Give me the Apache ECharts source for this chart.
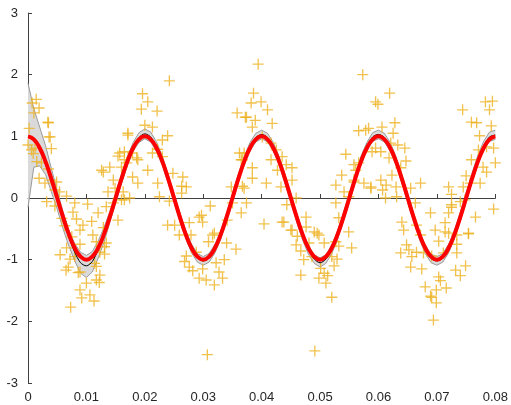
<!DOCTYPE html>
<html>
<head>
<meta charset="utf-8">
<script src="https://cdn.jsdelivr.net/npm/echarts@6/dist/echarts.min.js"></script>
<style>
  html, body { margin: 0; padding: 0; background: #fff; }
  #main { width: 511px; height: 405px; }
</style>
</head>
<body>
<div id="main"></div>
<script>
// x grid of the curves
var xGrid = [0, 0.001, 0.002, 0.003, 0.004, 0.005, 0.006, 0.007, 0.008, 0.009,
  0.01, 0.011, 0.012, 0.013, 0.014, 0.015, 0.016, 0.017, 0.018, 0.019,
  0.02, 0.021, 0.022, 0.023, 0.024, 0.025, 0.026, 0.027, 0.028, 0.029,
  0.03, 0.031, 0.032, 0.033, 0.034, 0.035, 0.036, 0.037, 0.038, 0.039,
  0.04, 0.041, 0.042, 0.043, 0.044, 0.045, 0.046, 0.047, 0.048, 0.049,
  0.05, 0.051, 0.052, 0.053, 0.054, 0.055, 0.056, 0.057, 0.058, 0.059,
  0.06, 0.061, 0.062, 0.063, 0.064, 0.065, 0.066, 0.067, 0.068, 0.069,
  0.07, 0.071, 0.072, 0.073, 0.074, 0.075, 0.076, 0.077, 0.078, 0.079, 0.08];

// red curve (true signal)
var trueY = [1, 0.95, 0.81, 0.59, 0.31, 0, -0.31, -0.59, -0.81, -0.95,
  -1, -0.95, -0.81, -0.59, -0.31, 0, 0.31, 0.59, 0.81, 0.95,
  1, 0.95, 0.81, 0.59, 0.31, 0, -0.31, -0.59, -0.81, -0.95,
  -1, -0.95, -0.81, -0.59, -0.31, 0, 0.31, 0.59, 0.81, 0.95,
  1, 0.95, 0.81, 0.59, 0.31, 0, -0.31, -0.59, -0.81, -0.95,
  -1, -0.95, -0.81, -0.59, -0.31, 0, 0.31, 0.59, 0.81, 0.95,
  1, 0.95, 0.81, 0.59, 0.31, 0, -0.31, -0.59, -0.81, -0.95,
  -1, -0.95, -0.81, -0.59, -0.31, 0, 0.31, 0.59, 0.81, 0.95, 1];

// black curve (estimate)
var fitY = [1.0, 0.97, 0.83, 0.6, 0.29, -0.03, -0.35, -0.64, -0.88, -1.05,
  -1.1, -1.03, -0.84, -0.6, -0.31, 0, 0.31, 0.6, 0.83, 0.98,
  1.04, 0.99, 0.83, 0.6, 0.31, 0, -0.31, -0.59, -0.82, -0.97,
  -1.02, -0.97, -0.82, -0.6, -0.31, 0, 0.32, 0.6, 0.83, 0.98,
  1.03, 0.98, 0.83, 0.6, 0.31, 0, -0.32, -0.61, -0.84, -0.99,
  -1.05, -0.99, -0.83, -0.6, -0.31, 0, 0.32, 0.61, 0.83, 0.99,
  1.03, 0.98, 0.83, 0.6, 0.31, 0, -0.31, -0.6, -0.83, -0.98,
  -1.02, -0.97, -0.82, -0.59, -0.3, 0.01, 0.32, 0.61, 0.84, 0.99, 1.02];

// grey band edges
var bandUpper = [1.86, 1.45, 1.15, 0.85, 0.48, 0.12, -0.22, -0.52, -0.74, -0.88,
  -0.93, -0.87, -0.7, -0.48, -0.22, 0.08, 0.39, 0.67, 0.9, 1.06,
  1.12, 1.07, 0.91, 0.68, 0.38, 0.07, -0.24, -0.52, -0.75, -0.9,
  -0.95, -0.9, -0.75, -0.53, -0.24, 0.07, 0.39, 0.67, 0.9, 1.05,
  1.1, 1.05, 0.9, 0.67, 0.38, 0.07, -0.25, -0.54, -0.77, -0.92,
  -0.97, -0.92, -0.76, -0.53, -0.24, 0.07, 0.39, 0.68, 0.9, 1.06,
  1.1, 1.05, 0.9, 0.67, 0.38, 0.07, -0.24, -0.53, -0.76, -0.91,
  -0.95, -0.9, -0.75, -0.52, -0.23, 0.08, 0.4, 0.69, 0.92, 1.07, 1.1];

var bandLower = [-0.15, 0.5, 0.52, 0.38, 0.1, -0.18, -0.5, -0.78, -1.02, -1.22,
  -1.29, -1.2, -0.98, -0.72, -0.4, -0.08, 0.23, 0.52, 0.76, 0.9,
  0.96, 0.91, 0.75, 0.53, 0.24, -0.07, -0.38, -0.66, -0.89, -1.04,
  -1.09, -1.04, -0.89, -0.67, -0.38, -0.07, 0.25, 0.53, 0.76, 0.91,
  0.96, 0.91, 0.76, 0.53, 0.24, -0.07, -0.39, -0.68, -0.91, -1.06,
  -1.12, -1.06, -0.9, -0.67, -0.38, -0.07, 0.25, 0.54, 0.76, 0.92,
  0.96, 0.91, 0.76, 0.53, 0.24, -0.07, -0.38, -0.67, -0.9, -1.05,
  -1.09, -1.04, -0.89, -0.66, -0.37, -0.06, 0.25, 0.54, 0.77, 0.92, 0.95];

// noisy samples
var samples = [
  [0.0014,1.6],[0.0007,1.54],[0.0019,1.46],[0.001,1.38],[0.0034,1.23],[0.0002,1.13],[0.0036,0.99],
  [0.0035,1.22],[0.0038,0.99],[0.004,0.8],[0.0,0.86],[0.0006,0.78],[0.0012,0.81],[0.0009,0.72],
  [0.0015,0.59],[0.0023,0.57],[0.0035,0.47],[0.0019,0.32],[0.0029,0.24],[0.004,0.29],[0.0049,0.26],
  [0.0046,0.13],[0.0054,0.1],[0.0066,0.03],[0.0032,-0.06],[0.0046,-0.13],[0.008,-0.08],[0.0102,-0.1],
  [0.0077,-0.23],[0.0058,-0.33],[0.0083,-0.34],[0.0063,-0.45],[0.0109,-0.38],[0.0094,-0.44],[0.0089,-0.52],
  [0.0111,-0.6],[0.0075,-0.63],[0.0117,-0.71],[0.0089,-0.75],[0.0066,-0.81],[0.0131,-0.79],[0.0123,-0.88],
  [0.0055,-0.92],[0.0072,-0.99],[0.008,-0.95],[0.0117,-1.11],[0.0069,-1.12],[0.0089,-1.2],[0.0123,-1.25],
  [0.0065,-1.17],[0.0086,-1.21],[0.01,-1.38],[0.0089,-1.49],[0.0117,-1.33],[0.0122,-1.37],[0.0092,-1.62],
  [0.0106,-1.57],[0.0113,-1.67],[0.0073,-1.77],[0.0114,-1.06],[0.0131,-0.91],
  [0.0126,0.45],[0.014,0.5],[0.0129,0.42],[0.0146,0.29],[0.0149,0.16],[0.0137,0.1],[0.0163,0.1],
  [0.0165,-0.03],[0.0146,-0.08],[0.0134,-0.14],[0.012,-0.24],[0.0154,-0.36],[0.0129,-0.48],[0.0134,-0.73],
  [0.0157,0.73],[0.0169,0.57],[0.0171,1.02],[0.0154,0.68],
  [0.0242,1.9],[0.0196,1.69],[0.0205,1.56],[0.0194,1.44],[0.0221,1.41],[0.0171,1.05],[0.02,1.18],
  [0.0213,1.15],[0.0239,1.01],[0.023,0.94],[0.0165,0.75],[0.0179,0.73],[0.0186,0.65],[0.0165,0.62],
  [0.0188,0.62],[0.0222,0.79],[0.0213,0.73],[0.023,0.67],[0.0205,0.45],[0.016,0.5],[0.0179,0.34],
  [0.0188,0.24],[0.0248,0.4],[0.0265,0.34],[0.0222,0.24],[0.0263,0.19],[0.0271,0.18],[0.0263,0.08],
  [0.0174,0.0],[0.016,-0.03],[0.0225,0.02],[0.0242,-0.05],[0.0251,-0.44],[0.0239,-0.44],[0.0276,-0.4],
  [0.0259,-0.6],[0.0279,-0.6],[0.0312,-0.13],[0.0358,1.38],[0.0372,1.31],[0.0362,0.73],[0.0367,0.62],
  [0.0348,0.18],[0.037,0.16],[0.035,-0.08],[0.0365,-0.24],[0.0341,-0.36],[0.0316,-0.6],[0.0297,-0.28],
  [0.0293,-0.31],
  [0.0299,-0.39],[0.0319,-0.57],[0.0309,-0.71],[0.034,-0.73],[0.0356,-0.83],[0.0271,-0.94],[0.0288,-0.88],
  [0.0268,-1.03],[0.0276,-1.12],[0.0282,-1.18],[0.0299,-1.15],[0.0293,-1.3],[0.0305,-1.33],[0.0319,-1.41],
  [0.0327,-1.2],[0.0322,-1.05],[0.0336,-1.0],[0.0333,-1.3],[0.0307,-2.54],
  [0.0394,2.17],[0.0386,1.7],[0.0382,1.54],[0.0399,1.56],[0.041,1.43],[0.0374,1.31],[0.0389,1.26],
  [0.0418,1.21],[0.0384,1.15],[0.0401,0.99],[0.0416,0.89],[0.0425,0.78],[0.037,0.73],[0.0365,0.62],
  [0.0416,0.62],[0.0435,0.67],[0.0442,0.54],[0.0384,0.49],[0.0427,0.45],[0.0452,0.49],[0.0384,0.32],
  [0.0408,0.24],[0.0367,0.19],[0.0433,0.18],[0.0452,0.29],[0.0374,-0.08],[0.0443,-0.11],[0.0459,0.0],
  [0.0476,-0.31],[0.0438,-0.39],[0.0404,-0.42],[0.0452,-0.52],[0.049,-0.55],[0.0495,-0.57],
  [0.0566,1.09],[0.0578,1.1],[0.0595,1.56],[0.0573,2.0],[0.0544,0.71],[0.0558,0.54],[0.0537,0.37],
  [0.0558,0.29],[0.0527,0.21],[0.0575,0.24],[0.0587,0.18],[0.0541,0.1],[0.0549,0.02],[0.0527,-0.08],
  [0.0532,-0.32],[0.0549,-0.55],[0.0566,0.57],[0.0561,0.45],[0.0558,0.26],
  [0.0435,-0.39],[0.045,-0.52],[0.0461,-0.62],[0.0476,-0.47],[0.0498,-0.6],[0.0459,-0.76],[0.0481,-0.73],
  [0.0467,-0.86],[0.0507,-0.73],[0.0527,-0.71],[0.0532,-0.78],[0.0554,-0.81],[0.0472,-1.0],[0.0486,-0.95],
  [0.052,-0.95],[0.0529,-0.99],[0.0501,-1.14],[0.0507,-1.22],[0.0524,-1.1],[0.0467,-1.25],[0.0498,-1.3],
  [0.0513,-1.26],[0.051,-1.38],[0.052,-1.61],[0.0491,-2.48],
  [0.0619,1.7],[0.0599,1.52],[0.0583,1.13],[0.0606,1.15],[0.0628,1.22],[0.0625,1.05],[0.0621,0.89],
  [0.0633,0.86],[0.0645,0.81],[0.0595,0.81],[0.0604,0.75],[0.0589,0.75],[0.0618,0.65],[0.0647,0.6],
  [0.0638,0.49],[0.0623,0.37],[0.0604,0.29],[0.0672,0.24],[0.0613,0.21],[0.063,0.18],[0.0655,0.16],
  [0.0587,0.16],[0.0607,0.13],[0.0612,0.0],[0.0631,0.02],[0.0663,-0.08],[0.0689,-0.24],[0.064,-0.39],
  [0.0643,-0.52],[0.0665,-0.44],[0.0697,-0.52],[0.0714,-0.4],[0.072,0.18],[0.0725,0.06],[0.0725,-0.15],
  [0.072,-0.24],[0.0744,1.43],[0.0759,1.23],[0.0768,1.22],[0.0783,1.56],[0.0795,1.57],[0.079,1.43],
  [0.0773,1.01],[0.0793,1.17],[0.0797,0.81],[0.0785,0.83],[0.0771,0.78],[0.0759,0.62],[0.0779,0.5],
  [0.08,0.57],[0.0785,0.42],[0.075,0.36],[0.0757,0.24],[0.0774,0.24],[0.0745,0.18],[0.074,-0.06],
  [0.0748,-0.03],[0.0725,-0.11],[0.0766,-0.31],[0.0797,-0.18],[0.0754,-0.57],[0.0714,-0.55],
  [0.0672,-0.6],[0.072,-0.57],[0.0734,-0.6],[0.0754,-0.58],[0.0703,-0.7],[0.0734,-0.75],[0.0648,-0.76],
  [0.0638,-0.89],[0.0652,-0.84],[0.0665,-0.88],[0.0677,-0.89],[0.0711,-0.89],[0.0734,-0.89],[0.0657,-0.95],
  [0.0691,-0.94],[0.0655,-1.12],[0.0674,-1.15],[0.0732,-1.17],[0.0749,-1.1],[0.074,-1.26],[0.0703,-1.28],
  [0.0706,-1.34],[0.068,-1.44],[0.0716,-1.46],[0.0699,-1.49],[0.0689,-1.59],[0.0691,-1.61],[0.0699,-1.7],
  [0.0694,-1.98]
];

var xTicks = [0, 0.01, 0.02, 0.03, 0.04, 0.05, 0.06, 0.07, 0.08];
var yTicks = [-3, -2, -1, 0, 1, 2, 3];

function pairs(ys) {
  return xGrid.map(function (x, i) { return [x, ys[i]]; });
}

var plusPath = 'path://M4.4,0H5.6V4.4H10V5.6H5.6V10H4.4V5.6H0V4.4H4.4Z';
var axisCol = '#404040';
var font = 'Liberation Sans, Arial, sans-serif';

// band polygon: upper edge left->right, lower edge right->left, through the axes
function renderBand(params, api) {
  var pts = [];
  for (var i = 0; i < xGrid.length; i++) {
    pts.push(api.coord([xGrid[i], bandUpper[i]]));
  }
  for (var j = xGrid.length - 1; j >= 0; j--) {
    pts.push(api.coord([xGrid[j], bandLower[j]]));
  }
  return {
    type: 'polygon',
    shape: { points: pts, smooth: 0 },
    style: { fill: '#dadada', stroke: null }
  };
}

var myChart = echarts.init(document.getElementById('main'));
myChart.setOption({
  animation: false,
  grid: { left: 28, right: 14, top: 13, bottom: 22 },
  xAxis: {
    type: 'value',
    min: 0, max: 0.08, interval: 0.01,
    splitLine: { show: false },
    axisLine: { lineStyle: { color: axisCol, width: 1 } },
    axisTick: { inside: true, length: 4, lineStyle: { color: axisCol } },
    axisLabel: {
      color: '#262626', fontSize: 13, fontFamily: font, margin: 8,
      formatter: function (v) { return String(Math.round(v * 100) / 100); }
    }
  },
  yAxis: {
    type: 'value',
    min: -3, max: 3, interval: 1,
    splitLine: { show: false },
    axisLine: { show: true, lineStyle: { color: axisCol, width: 1 } },
    axisTick: { show: true, inside: true, length: 4, lineStyle: { color: axisCol } },
    axisLabel: { color: '#262626', fontSize: 13, fontFamily: font, margin: 10 }
  },
  series: [
    {
      type: 'custom', data: [[0, 0]], renderItem: renderBand,
      silent: true, z: 1, clip: true
    },
    {
      type: 'line', data: pairs(bandUpper), symbol: 'none',
      lineStyle: { color: '#9a9a9a', width: 1 }, z: 2
    },
    {
      type: 'line', data: pairs(bandLower), symbol: 'none',
      lineStyle: { color: '#9a9a9a', width: 1 }, z: 2
    },
    {
      type: 'scatter', data: samples, symbol: plusPath, symbolSize: 11,
      itemStyle: { color: '#edb120', opacity: 0.8 }, z: 3
    },
    {
      type: 'line', data: pairs(fitY), symbol: 'none', smooth: 0.3,
      lineStyle: { color: '#000', width: 1 }, z: 4
    },
    {
      type: 'line', data: pairs(trueY), symbol: 'none', smooth: 0.5,
      lineStyle: { color: '#ff0000', width: 4 }, z: 5
    }
  ]
});
window.onresize = myChart.resize;
</script>
</body>
</html>
